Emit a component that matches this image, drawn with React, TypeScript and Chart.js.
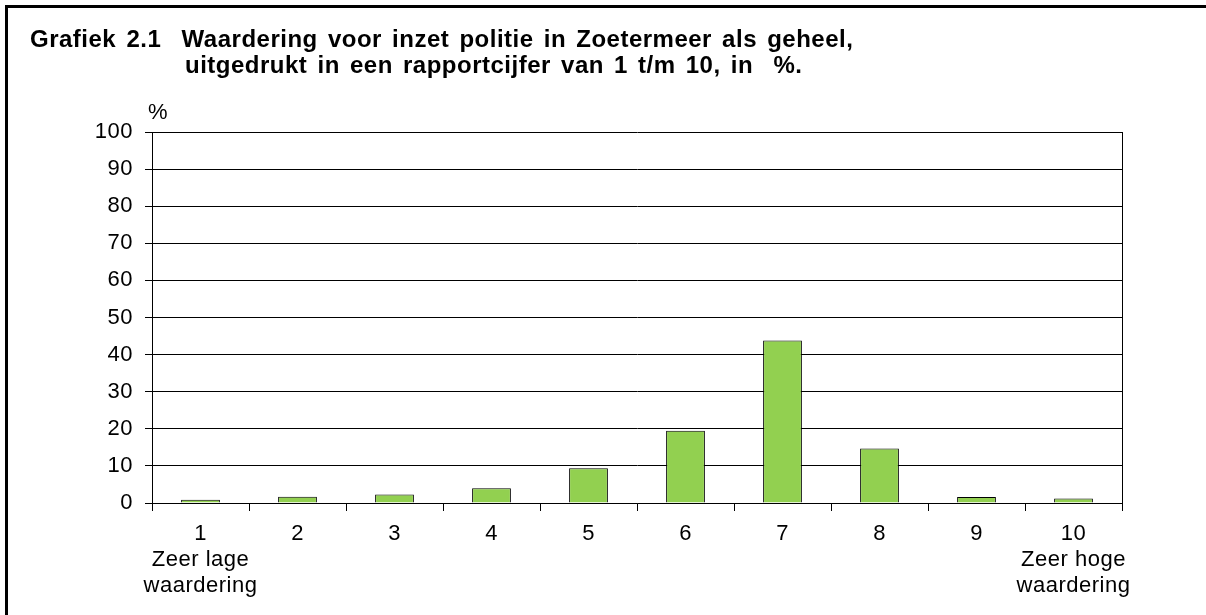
import React, { useEffect, useRef } from "react";
import { Chart, registerables } from "chart.js";

Chart.register(...registerables);

const categories: string[][] = [
  ["1", "Zeer lage", "waardering"],
  ["2"],
  ["3"],
  ["4"],
  ["5"],
  ["6"],
  ["7"],
  ["8"],
  ["9"],
  ["10", "Zeer hoge", "waardering"],
];
const percentages: number[] = [0.9, 1.7, 2.3, 4.0, 9.4, 19.5, 43.8, 14.7, 1.6, 1.2];
const titleLine1 = "Grafiek 2.1  Waardering voor inzet politie in Zoetermeer als geheel,";
const titleLine2 = "uitgedrukt in een rapportcijfer van 1 t/m 10, in  %.";
const yUnit = "%";

const FONT = "Arial, 'Liberation Sans', sans-serif";

const decorPlugin = {
  id: "decor",
  beforeDraw(chart: any) {
    const ctx = chart.ctx as any;
    ctx.letterSpacing = "0.5px";
  },
  afterDraw(chart: any) {
    const ctx = chart.ctx as any;
    const area = chart.chartArea;
    ctx.save();
    ctx.strokeStyle = "#000";
    ctx.lineWidth = 3;
    ctx.beginPath();
    ctx.moveTo(6.5, chart.height);
    ctx.lineTo(6.5, 6.5);
    ctx.lineTo(chart.width, 6.5);
    ctx.stroke();
    ctx.lineWidth = 1;
    ctx.beginPath();
    ctx.moveTo(Math.round(area.right) + 0.5, area.top);
    ctx.lineTo(Math.round(area.right) + 0.5, area.bottom);
    ctx.stroke();
    ctx.fillStyle = "#000";
    ctx.textBaseline = "alphabetic";
    ctx.textAlign = "left";
    ctx.font = `bold 24px ${FONT}`;
    ctx.letterSpacing = "0.5px";
    ctx.wordSpacing = "3px";
    ctx.fillText(titleLine1, 30, 47);
    ctx.fillText(titleLine2, 185, 73);
    ctx.wordSpacing = "0px";
    ctx.font = `22px ${FONT}`;
    ctx.textBaseline = "middle";
    ctx.fillText(yUnit, 148, 113);
    ctx.restore();
  },
};

export default function App() {
  const ref = useRef<HTMLCanvasElement | null>(null);
  useEffect(() => {
    if (!ref.current) return;
    const chart = new Chart(ref.current, {
      type: "bar",
      data: {
        labels: categories,
        datasets: [
          {
            data: percentages,
            backgroundColor: "#92D050",
            borderColor: "#000",
            borderWidth: 1,
            categoryPercentage: 1,
            barPercentage: 0.4,
          },
        ],
      },
      options: {
        responsive: false,
        animation: false,
        layout: { padding: { left: 0, top: 132, right: 84, bottom: 0 } },
        plugins: {
          legend: { display: false },
          title: { display: false },
          tooltip: { enabled: false },
        },
        scales: {
          x: {
            afterFit: (s: any) => {
              s.height = 112;
            },
            grid: {
              drawOnChartArea: false,
              drawTicks: true,
              tickLength: 8,
              color: "#000",
              offset: true,
            },
            border: { display: true, color: "#000", width: 1 },
            ticks: {
              color: "#000",
              font: { family: FONT, size: 22, lineHeight: 1.18 },
              padding: 10,
              maxRotation: 0,
              autoSkip: false,
            },
          },
          y: {
            min: 0,
            max: 100,
            afterFit: (s: any) => {
              s.width = 152;
            },
            grid: { color: "#000", lineWidth: 1, tickLength: 7 },
            border: { display: true, color: "#000", width: 1 },
            ticks: {
              stepSize: 10,
              color: "#000",
              font: { family: FONT, size: 22 },
              padding: 12,
            },
          },
        },
      },
      plugins: [decorPlugin],
    });
    return () => chart.destroy();
  }, []);
  return (
    <div style={{ position: "fixed", left: 0, top: 0, width: 1206, height: 615, background: "#fff" }}>
      <canvas ref={ref} width={1206} height={615} />
    </div>
  );
}
